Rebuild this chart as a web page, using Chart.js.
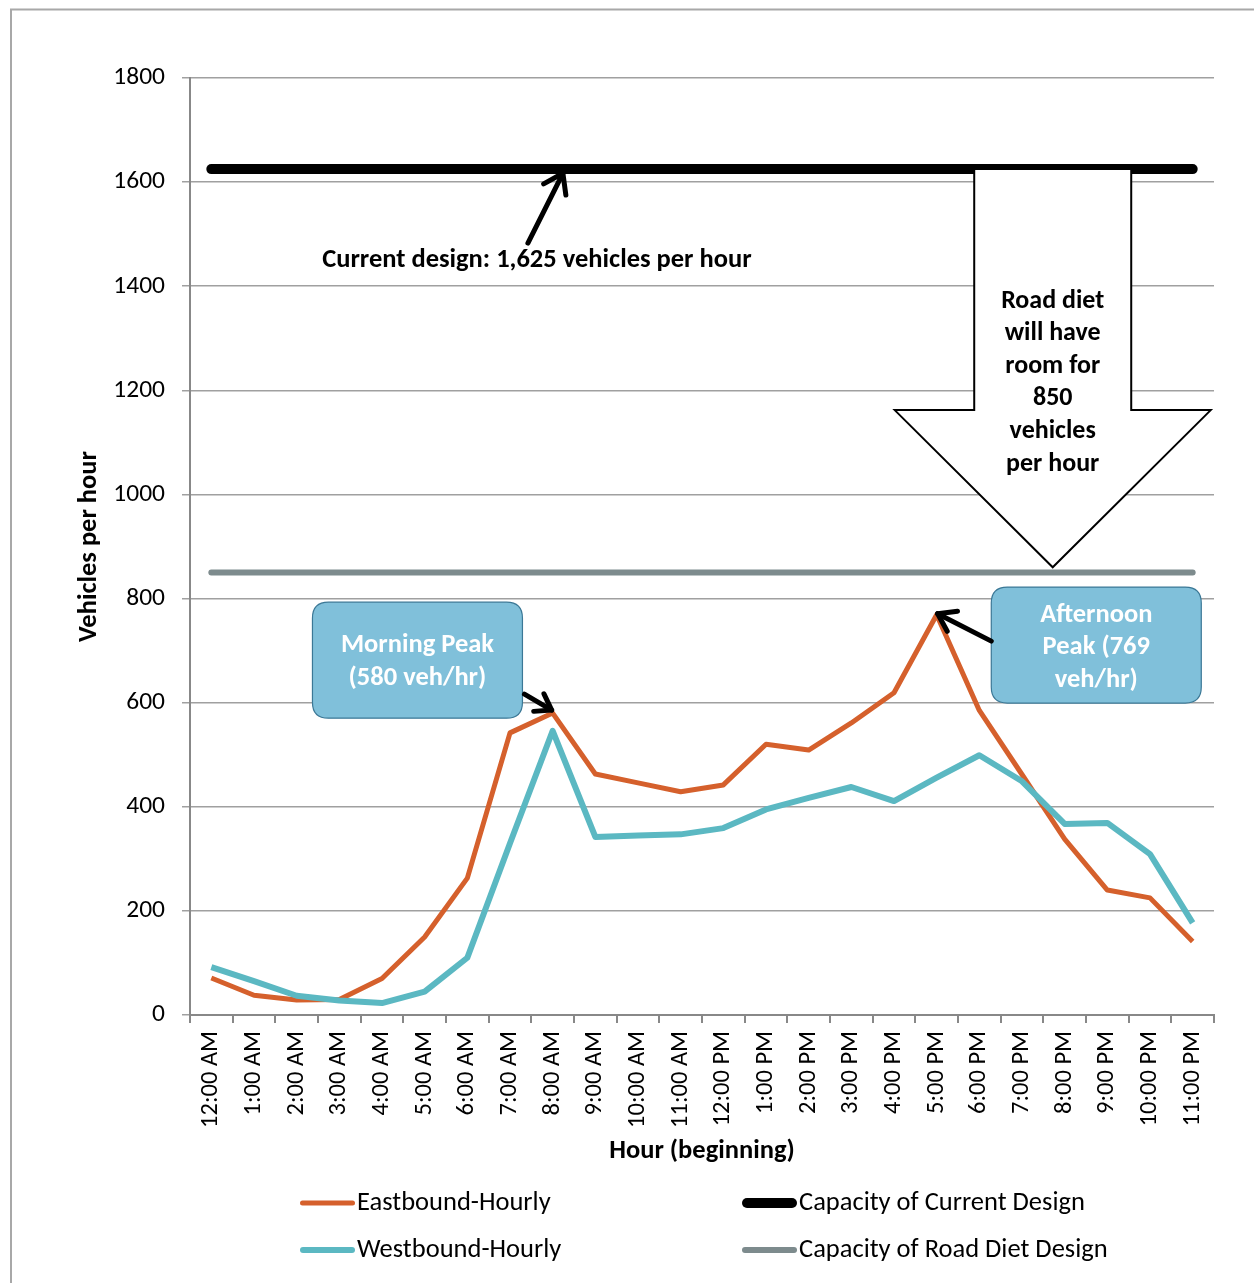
<!DOCTYPE html>
<html><head><meta charset="utf-8">
<script src="https://cdn.jsdelivr.net/npm/chart.js@4.4.1/dist/chart.umd.min.js"></script>
<style>html,body{margin:0;padding:0;background:#fff}#wrap{width:1254px;height:1283px;position:relative}</style>
</head><body><div id="wrap"><canvas id="c" width="1254" height="1283"></canvas></div>
<script>
// ---- data ----
const hours = ["12:00 AM","1:00 AM","2:00 AM","3:00 AM","4:00 AM","5:00 AM","6:00 AM","7:00 AM","8:00 AM","9:00 AM","10:00 AM","11:00 AM","12:00 PM","1:00 PM","2:00 PM","3:00 PM","4:00 PM","5:00 PM","6:00 PM","7:00 PM","8:00 PM","9:00 PM","10:00 PM","11:00 PM"];
const eastbound = [71,38,29,30,70,150,263,542,580,463,446,429,442,520,509,561,619,769,585,462,338,240,225,141];
const westbound = [92,65,37,28,23,45,110,330,546,342,345,347,359,395,417,438,411,456,499,449,367,369,309,177];
const currentCapacity = 1625;
const roadDietCapacity = 850;
const seriesNames = ["Eastbound-Hourly","Westbound-Hourly","Capacity of Current Design","Capacity of Road Diet Design"];
const yMin = 0, yMax = 1800, yStep = 200;
const morningPeakText = ["Morning Peak","(580 veh/hr)"];
const afternoonPeakText = ["Afternoon","Peak (769","veh/hr)"];
const currentDesignText = "Current design: 1,625 vehicles per hour";
const roadDietText = ["Road diet","will have","room for","850","vehicles","per hour"];

const FONT = "Carlito, Lato, 'Open Sans', sans-serif";
const C_EAST = "#D5602C", C_WEST = "#5BB8C2", C_CUR = "#000000", C_DIET = "#7D8B8D";
const BOX_FILL = "#80C0DA", BOX_EDGE = "#3B7896";

function chevron(ctx, x1, y1, x2, y2, head, lw) {
  const a = Math.atan2(y2 - y1, x2 - x1);
  ctx.save();
  ctx.strokeStyle = "#000"; ctx.lineWidth = lw; ctx.lineCap = "round"; ctx.lineJoin = "round";
  ctx.beginPath(); ctx.moveTo(x1, y1); ctx.lineTo(x2, y2); ctx.stroke();
  ctx.beginPath();
  ctx.moveTo(x2 - head * Math.cos(a - 0.6), y2 - head * Math.sin(a - 0.6));
  ctx.lineTo(x2, y2);
  ctx.lineTo(x2 - head * Math.cos(a + 0.6), y2 - head * Math.sin(a + 0.6));
  ctx.stroke();
  ctx.restore();
}
function roundBox(ctx, x, y, w, h, r) {
  ctx.beginPath();
  ctx.moveTo(x + r, y); ctx.lineTo(x + w - r, y); ctx.quadraticCurveTo(x + w, y, x + w, y + r);
  ctx.lineTo(x + w, y + h - r); ctx.quadraticCurveTo(x + w, y + h, x + w - r, y + h);
  ctx.lineTo(x + r, y + h); ctx.quadraticCurveTo(x, y + h, x, y + h - r);
  ctx.lineTo(x, y + r); ctx.quadraticCurveTo(x, y, x + r, y);
  ctx.closePath();
}

const framePlugin = {
  id: "frame",
  beforeDraw(chart) {
    const ctx = chart.ctx;
    ctx.save();
    ctx.fillStyle = "#fff"; ctx.fillRect(0, 0, chart.width, chart.height);
    ctx.strokeStyle = "#A8A8A8"; ctx.lineWidth = 2;
    ctx.beginPath(); ctx.moveTo(11, chart.height); ctx.lineTo(11, 9.5); ctx.lineTo(chart.width, 9.5); ctx.stroke();
    ctx.restore();
  }
};

const annotPlugin = {
  id: "annot",
  afterDatasetsDraw(chart) {
    const ctx = chart.ctx, xs = chart.scales.x, ys = chart.scales.y;
    const px = v => xs.getPixelForValue(v), py = v => ys.getPixelForValue(v);
    ctx.save();
    // current design arrow + text
    chevron(ctx, px(7.42), py(1483), px(8.24), py(1617), 22, 5);
    ctx.fillStyle = "#000"; ctx.font = "bold 26.5px " + FONT;
    ctx.textAlign = "center"; ctx.textBaseline = "middle";
    ctx.fillText(currentDesignText, px(7.63), py(1450));

    // big down arrow
    const cx = px(19.72), sh = 78.5, hw = 158;
    const yTop = py(currentCapacity), yBase = py(1162), yTip = py(860);
    ctx.beginPath();
    ctx.moveTo(cx - sh, yTop); ctx.lineTo(cx + sh, yTop); ctx.lineTo(cx + sh, yBase);
    ctx.lineTo(cx + hw, yBase); ctx.lineTo(cx, yTip); ctx.lineTo(cx - hw, yBase);
    ctx.lineTo(cx - sh, yBase); ctx.closePath();
    ctx.fillStyle = "#fff"; ctx.fill();
    ctx.strokeStyle = "#000"; ctx.lineWidth = 2; ctx.lineJoin = "miter"; ctx.stroke();
    ctx.fillStyle = "#000"; ctx.font = "bold 26px " + FONT;
    roadDietText.forEach((t, i) => ctx.fillText(t, cx, 301 + i * 32.6));

    // morning peak box
    let bx = px(2.37), by = py(793), bw = 210, bh = 116;
    roundBox(ctx, bx, by, bw, bh, 16);
    ctx.fillStyle = BOX_FILL; ctx.fill(); ctx.strokeStyle = BOX_EDGE; ctx.lineWidth = 1.2; ctx.stroke();
    ctx.fillStyle = "#fff"; ctx.font = "bold 26.5px " + FONT;
    morningPeakText.forEach((t, i) => ctx.fillText(t, bx + bw / 2, by + 43 + i * 33));
    chevron(ctx, bx + bw + 2, by + 92, px(8) - 1, py(eastbound[8]) - 3, 18, 5);

    // afternoon peak box
    bx = px(18.28); by = py(822);
    roundBox(ctx, bx, by, bw, bh, 16);
    ctx.fillStyle = BOX_FILL; ctx.fill(); ctx.strokeStyle = BOX_EDGE; ctx.lineWidth = 1.2; ctx.stroke();
    ctx.fillStyle = "#fff"; ctx.font = "bold 26.5px " + FONT;
    afternoonPeakText.forEach((t, i) => ctx.fillText(t, bx + bw / 2, by + 28 + i * 32.5));
    chevron(ctx, bx, by + 54, px(17) + 1, py(eastbound[17]) - 1, 20, 5);
    ctx.restore();
  },
  afterDraw(chart) {
    const ctx = chart.ctx;
    const colors = [C_EAST, C_WEST, C_CUR, C_DIET];
    const widths = [5, 6, 10, 6];
    const pos = [[300, 1203], [300, 1250], [742, 1203], [742, 1250]];
    ctx.save();
    ctx.font = "26.5px " + FONT; ctx.textBaseline = "middle"; ctx.textAlign = "left";
    seriesNames.forEach((n, i) => {
      const [x, y] = pos[i];
      ctx.strokeStyle = colors[i]; ctx.lineWidth = widths[i]; ctx.lineCap = "round";
      ctx.beginPath(); ctx.moveTo(x + widths[i] / 2, y); ctx.lineTo(x + 55 - widths[i] / 2, y); ctx.stroke();
      ctx.fillStyle = "#000"; ctx.fillText(n, x + 57, y);
    });
    ctx.restore();
  }
};

new Chart(document.getElementById("c"), {
  type: "line",
  data: {
    labels: hours,
    datasets: [
      { label: seriesNames[0], data: eastbound, borderColor: C_EAST, borderWidth: 5, pointRadius: 0, order: 1, borderJoinStyle: "round", tension: 0 },
      { label: seriesNames[1], data: westbound, borderColor: C_WEST, borderWidth: 6, pointRadius: 0, order: 0, borderJoinStyle: "round", tension: 0 },
      { label: seriesNames[2], data: hours.map(() => currentCapacity), borderColor: C_CUR, borderWidth: 10, pointRadius: 0, order: 2, borderCapStyle: "round" },
      { label: seriesNames[3], data: hours.map(() => roadDietCapacity), borderColor: C_DIET, borderWidth: 6, pointRadius: 0, order: 3, borderCapStyle: "round" }
    ]
  },
  options: {
    responsive: false, animation: false, devicePixelRatio: 1,
    layout: { padding: { left: 10, top: 78, right: 40, bottom: 79 } },
    plugins: { legend: { display: false }, tooltip: { enabled: false }, title: { display: false } },
    scales: {
      x: {
        offset: true,
        grid: { drawOnChartArea: false, drawTicks: true, tickLength: 8, color: "#888", lineWidth: 2, offset: true },
        border: { color: "#888", width: 2 },
        ticks: { autoSkip: false, minRotation: 90, maxRotation: 90, color: "#000", font: { family: FONT, size: 24.5 }, padding: 8 },
        title: { display: true, text: "Hour (beginning)", color: "#000", font: { family: FONT, size: 26.5, weight: "bold" }, padding: { top: 0, bottom: 37 } },
        afterFit: s => { s.height = 189; }
      },
      y: {
        min: yMin, max: yMax,
        grid: { color: "#A0A0A0", lineWidth: 1.5, tickLength: 8 },
        border: { color: "#888", width: 2 },
        ticks: { stepSize: yStep, color: "#000", font: { family: FONT, size: 25.5 }, padding: 17, callback: v => String(v) },
        title: { display: true, text: "Vehicles per hour", color: "#000", font: { family: FONT, size: 26.5, weight: "bold" }, padding: { top: 63, bottom: 0 } },
        afterFit: s => { s.width = 180; }
      }
    }
  },
  plugins: [framePlugin, annotPlugin]
});
</script></body></html>
